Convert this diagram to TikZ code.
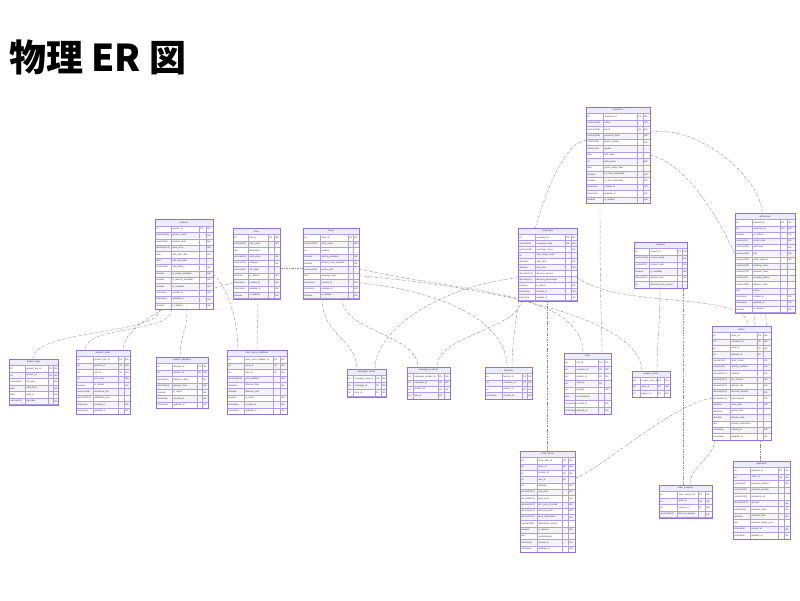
\documentclass[tikz,border=0pt]{standalone}
\usepackage{fontspec}
\setmainfont{Liberation Sans}
\newfontfamily\cjk{Noto Sans CJK JP}
\usetikzlibrary{calc}
\definecolor{erborder}{HTML}{9370DB}
\definecolor{headfill}{HTML}{ECECFF}
\definecolor{rowodd}{HTML}{FFFFFF}
\definecolor{roweven}{HTML}{F3F3FA}
\definecolor{ertextc}{HTML}{333333}
\definecolor{relc}{HTML}{8A8A8A}
\pgfdeclarelayer{bg}
\pgfsetlayers{bg,main}
\tikzset{
  erhead/.style={fill=headfill,draw=erborder,line width=0.2pt},
  ercell/.style={draw=erborder!70,line width=0.12pt},
  erframe/.style={draw=erborder,line width=0.3pt,inner sep=0pt,fill=none},
  ertxt/.style={anchor=west,inner sep=0pt,text=ertextc,font=\fontsize{2.2}{2.6}\selectfont},
  ertitle/.style={anchor=center,inner sep=0pt,text=ertextc,font=\fontsize{2.3}{2.7}\selectfont},
  rel/.style={draw=relc,line width=0.45pt,dash pattern=on 2.4pt off 1.2pt on 0.6pt off 1.2pt},
}
\newcount\errow
\def\erhh{6.5}
\def\errh{6.4}
\newcommand\ertab[8]{%
  \def\erid{#1}\def\erX{#2}\def\erY{#3}%
  \def\erwa{#4}\def\erwb{#5}\def\erwc{#6}\def\erwd{#7}%
  \pgfmathsetmacro\erW{#4+#5+#6+#7}%
  \errow=0
  \draw[erhead] (#2,#3) rectangle ++(\erW,\erhh);
  \node[ertitle] (#1-title) at ({#2+\erW/2},{#3+\erhh/2}) {#8};%
}
\newcommand\err[4]{%
  \advance\errow by 1
  \pgfmathsetmacro\ery{\erY+\erhh+(\the\errow-1)*\errh}%
  \pgfmathsetmacro\erym{\ery+\errh/2}%
  \pgfmathsetmacro\erxb{\erX+\erwa}%
  \pgfmathsetmacro\erxc{\erxb+\erwb}%
  \pgfmathsetmacro\erxd{\erxc+\erwc}%
  \ifodd\errow \def\erf{rowodd}\else\def\erf{roweven}\fi
  \path[ercell,fill=\erf] (\erX,\ery) rectangle ++(\erwa,\errh) (\erxb,\ery) rectangle ++(\erwb,\errh) (\erxc,\ery) rectangle ++(\erwc,\errh) (\erxd,\ery) rectangle ++(\erwd,\errh);
  \node[ertxt] (\erid-\the\errow-type) at ({\erX+1.3},\erym) {#1};
  \node[ertxt] (\erid-\the\errow-name) at ({\erxb+1.3},\erym) {#2};
  \node[ertxt] (\erid-\the\errow-key) at ({\erxc+1.1},\erym) {#3};
  \node[ertxt] (\erid-\the\errow-null) at ({\erxd+1.1},\erym) {#4};
}
\newcommand\erend{%
  \pgfmathsetmacro\erH{\erhh+\the\errow*\errh}%
  \node[erframe,minimum width=\erW pt,minimum height=\erH pt,anchor=north west] (\erid) at (\erX,\erY) {};
}
\begin{document}
\catcode`\_=12
\begin{tikzpicture}[x=1pt,y=-1pt]
\useasboundingbox (0,0) rectangle (800,600);
\node[anchor=west,inner sep=0pt] (title) at (9,57) {\cjk\bfseries\fontsize{37}{41}\selectfont 物理 ER 図};

% T1 customers
\def\errh{6.4}
\ertab{customers}{586}{107}{17}{34}{6}{7}{customers}
\err{int}{customer_id}{PK}{NN}
\err{varchar(100)}{name}{}{NN}
\err{varchar(255)}{email}{UK}{NN}
\err{varchar(255)}{password_hash}{}{NN}
\err{varchar(20)}{phone_number}{}{NN}
\err{varchar(10)}{gender}{}{}
\err{date}{birth_date}{}{}
\err{int}{total_points}{}{NN}
\err{date}{points_expire_date}{}{}
\err{boolean}{is_email_subscribed}{}{NN}
\err{boolean}{is_sms_subscribed}{}{NN}
\err{timestamp}{created_at}{}{NN}
\err{timestamp}{updated_at}{}{NN}
\err{boolean}{is_deleted}{}{NN}
\erend

% T2 products
\ertab{products}{155}{219.3}{16}{28}{7}{7}{products}
\err{int}{product_id}{PK}{NN}
\err{varchar(100)}{product_name}{}{NN}
\err{varchar(50)}{product_code}{}{NN}
\err{decimal(10,2)}{base_price}{}{NN}
\err{date}{sale_start_date}{}{NN}
\err{date}{sale_end_date}{}{}
\err{varchar(20)}{size_pattern}{}{NN}
\err{boolean}{is_pickup_available}{}{NN}
\err{boolean}{is_delivery_available}{}{NN}
\err{boolean}{is_available}{}{NN}
\err{timestamp}{created_at}{}{NN}
\err{timestamp}{updated_at}{}{NN}
\err{boolean}{is_deleted}{}{NN}
\erend

% T3 sizes
\ertab{sizes}{233}{228}{15}{20}{6}{6}{sizes}
\err{int}{size_id}{PK}{NN}
\err{varchar(50)}{size_name}{}{NN}
\err{text}{description}{}{}
\err{decimal(5,2)}{extra_price}{}{NN}
\err{varchar(20)}{category}{}{NN}
\err{varchar(20)}{unit_label}{}{}
\err{boolean}{is_default}{}{NN}
\err{timestamp}{created_at}{}{NN}
\err{timestamp}{updated_at}{}{NN}
\err{boolean}{is_deleted}{}{NN}
\erend

% T4 stores
\ertab{stores}{303}{228}{17}{28}{5}{6}{stores}
\err{int}{store_id}{PK}{NN}
\err{varchar(100)}{store_name}{}{NN}
\err{int}{capacity}{}{}
\err{boolean}{parking_available}{}{NN}
\err{boolean}{delivery_area_available}{}{NN}
\err{varchar(255)}{access_info}{}{}
\err{text}{opening_hours}{}{}
\err{timestamp}{created_at}{}{NN}
\err{timestamp}{updated_at}{}{NN}
\err{boolean}{is_deleted}{}{NN}
\erend

% T5 campaigns
\def\errh{6.0}
\ertab{campaigns}{518}{228}{17}{30}{6}{6}{campaigns}
\err{int}{campaign_id}{PK}{NN}
\err{varchar(50)}{campaign_code}{UK}{NN}
\err{varchar(255)}{campaign_name}{}{NN}
\err{int}{max_usage_count}{}{}
\err{datetime}{start_date}{}{NN}
\err{datetime}{end_date}{}{NN}
\err{decimal(10,2)}{discount_amount}{}{}
\err{decimal(5,2)}{discount_percentage}{}{}
\err{boolean}{is_active}{}{NN}
\err{timestamp}{created_at}{}{NN}
\err{timestamp}{updated_at}{}{NN}
\erend

% T6 coupons
\def\errh{6.6}
\ertab{coupons}{634}{242}{15}{28}{5}{5}{coupons}
\err{int}{coupon_id}{PK}{NN}
\err{varchar(100)}{coupon_name}{}{NN}
\err{varchar(50)}{coupon_code}{}{NN}
\err{boolean}{is_available}{}{NN}
\err{decimal(5,2)}{discount_rate}{}{NN}
\err{int}{discount_max_amount}{}{}
\erend

% T7 addresses
\def\errh{6.2}
\ertab{addresses}{735}{213}{17}{28}{7}{8}{addresses}
\err{int}{address_id}{PK}{NN}
\err{int}{customer_id}{FK}{NN}
\err{boolean}{is_default}{}{NN}
\err{varchar(10)}{postal_code}{}{NN}
\err{varchar(100)}{prefecture}{}{NN}
\err{varchar(100)}{city}{}{NN}
\err{varchar(255)}{street_address}{}{NN}
\err{varchar(255)}{building_name}{}{}
\err{varchar(100)}{recipient_name}{}{}
\err{varchar(20)}{recipient_phone}{}{}
\err{varchar(255)}{delivery_notes}{}{}
\err{text}{memo}{}{}
\err{timestamp}{created_at}{}{NN}
\err{timestamp}{updated_at}{}{NN}
\err{boolean}{is_deleted}{}{NN}
\erend

% T8 product_tags
\def\errh{6.5}
\ertab{ptags}{9}{359}{16}{23}{5}{5}{product_tags}
\err{int}{product_tag_id}{PK}{NN}
\err{int}{product_id}{FK}{NN}
\err{varchar(50)}{tag_type}{}{NN}
\err{date}{valid_from}{}{NN}
\err{date}{valid_to}{}{NN}
\err{varchar(20)}{tag_label}{}{NN}
\erend

% T9 product_sizes
\def\errh{6.4}
\ertab{psizes}{76}{350}{17}{25}{6}{6}{product_sizes}
\err{int}{product_size_id}{PK}{NN}
\err{int}{product_id}{FK}{NN}
\err{int}{size_id}{FK}{NN}
\err{int}{sort_order}{}{NN}
\err{boolean}{is_default}{}{NN}
\err{varchar(255)}{nutritional_info}{}{}
\err{decimal(10,2)}{additional_price}{}{}
\err{timestamp}{created_at}{}{NN}
\err{timestamp}{updated_at}{}{NN}
\erend

% T10 product_allergens
\ertab{pallerg}{156}{357}{16}{25}{5}{6}{product_allergens}
\err{int}{allergen_id}{PK}{NN}
\err{int}{product_id}{FK}{NN}
\err{varchar(50)}{allergen_name}{}{NN}
\err{decimal(5,2)}{allergen_level}{}{NN}
\err{boolean}{is_major}{}{NN}
\err{timestamp}{created_at}{}{NN}
\err{timestamp}{updated_at}{}{NN}
\erend

% T11 store_menu_additions
\ertab{smadd}{227}{350}{17}{29}{7}{7}{store_menu_additions}
\err{int}{store_menu_addition_id}{PK}{NN}
\err{int}{store_id}{FK}{NN}
\err{int}{size_id}{FK}{NN}
\err{decimal(10,2)}{price_addition}{}{NN}
\err{datetime}{effective_from}{}{NN}
\err{datetime}{effective_until}{}{}
\err{boolean}{is_active}{}{NN}
\err{timestamp}{created_at}{}{NN}
\err{timestamp}{updated_at}{}{NN}
\erend

% T12 campaign_stores
\def\errh{7.0}
\ertab{cstores}{347}{369}{6}{22}{6}{5}{campaign_stores}
\err{int}{campaign_store_id}{PK}{NN}
\err{int}{campaign_id}{FK}{NN}
\err{int}{store_id}{FK}{NN}
\erend

% T13 campaign_products
\def\errh{6.3}
\ertab{cprods}{407}{367}{6}{25}{6}{6}{campaign_products}
\err{int}{campaign_product_id}{PK}{NN}
\err{int}{campaign_id}{FK}{NN}
\err{int}{product_id}{FK}{NN}
\err{int}{size_id}{FK}{}
\erend

% T14 favorites
\ertab{favs}{485}{367}{17}{20}{5}{5}{favorites}
\err{int}{favorite_id}{PK}{NN}
\err{int}{customer_id}{FK}{NN}
\err{int}{product_id}{FK}{NN}
\err{timestamp}{created_at}{}{NN}
\erend

% T15 carts
\def\errh{6.8}
\ertab{carts}{564}{353}{11}{23}{6}{7}{carts}
\err{int}{cart_id}{PK}{NN}
\err{int}{customer_id}{FK}{NN}
\err{int}{product_id}{FK}{NN}
\err{int}{store_id}{FK}{}
\err{int}{quantity}{}{NN}
\err{text}{customization}{}{}
\err{timestamp}{created_at}{}{NN}
\err{timestamp}{updated_at}{}{NN}
\erend

% T16 coupon_stores
\def\errh{6.4}
\ertab{coupstores}{632}{371}{8}{17}{7}{6}{coupon_stores}
\err{int}{coupon_store_id}{PK}{NN}
\err{int}{store_id}{FK}{NN}
\err{int}{region_id}{FK}{NN}
\erend

% T17 orders
\def\errh{6.3}
\ertab{orders}{712}{326}{18}{27}{6}{8}{orders}
\err{int}{order_id}{PK}{NN}
\err{int}{customer_id}{FK}{NN}
\err{int}{store_id}{FK}{NN}
\err{int}{address_id}{FK}{}
\err{varchar(20)}{order_status}{}{NN}
\err{varchar(20)}{delivery_method}{}{NN}
\err{decimal(10,2)}{subtotal}{}{NN}
\err{decimal(10,2)}{tax_amount}{}{NN}
\err{decimal(10,2)}{delivery_fee}{}{NN}
\err{decimal(10,2)}{discount_amount}{}{NN}
\err{decimal(10,2)}{total_amount}{}{NN}
\err{datetime}{order_date}{}{NN}
\err{datetime}{pickup_time}{}{}
\err{datetime}{delivery_time}{}{}
\err{text}{special_instructions}{}{}
\err{timestamp}{created_at}{}{NN}
\err{timestamp}{updated_at}{}{NN}
\erend

% T18 order_items
\ertab{oitems}{520}{451}{17}{25}{6}{7}{order_items}
\err{int}{order_item_id}{PK}{NN}
\err{int}{order_id}{FK}{NN}
\err{int}{product_id}{FK}{NN}
\err{int}{size_id}{FK}{}
\err{int}{quantity}{}{NN}
\err{decimal(10,2)}{unit_price}{}{NN}
\err{decimal(10,2)}{base_price}{}{NN}
\err{decimal(10,2)}{unit_price_at_order}{}{NN}
\err{decimal(10,2)}{discount_price}{}{NN}
\err{decimal(10,2)}{price_adjustment}{}{NN}
\err{varchar(255)}{adjustment_reason}{}{}
\err{boolean}{is_takeout}{}{NN}
\err{text}{customization}{}{}
\err{timestamp}{created_at}{}{NN}
\err{timestamp}{updated_at}{}{NN}
\erend

% T19 order_coupons
\def\errh{6.5}
\ertab{ocoup}{659}{485}{18}{21}{7}{7}{order_coupons}
\err{int}{order_coupon_id}{PK}{NN}
\err{int}{order_id}{FK}{NN}
\err{int}{coupon_id}{FK}{NN}
\err{decimal(10,2)}{discount_applied}{}{NN}
\erend

% T20 payments
\ertab{payments}{733}{461}{17}{28}{6}{6}{payments}
\err{int}{payment_id}{PK}{NN}
\err{int}{order_id}{FK}{NN}
\err{varchar(50)}{payment_method}{}{NN}
\err{varchar(100)}{payment_provider}{}{}
\err{varchar(100)}{transaction_id}{}{}
\err{decimal(10,2)}{amount}{}{NN}
\err{varchar(20)}{payment_status}{}{NN}
\err{datetime}{payment_date}{}{NN}
\err{text}{payment_details_json}{}{}
\err{timestamp}{created_at}{}{NN}
\err{timestamp}{updated_at}{}{NN}
\erend

\begin{pgfonlayer}{bg}
% products relations
\draw[rel] ($(products.south west)+(5,0)$) .. controls +(0,26) and +(0,-30) .. ($(ptags.north west)+(24,0)$);
\draw[rel] ($(products.south west)+(17,0)$) .. controls +(0,24) and +(0,-25) .. ($(psizes.north west)+(9,0)$);
\draw[rel] ($(sizes.south west)+(0,-16)$) .. controls +(-33,8) and +(0,-30) .. ($(psizes.north west)+(47,0)$);
\draw[rel] ($(products.south west)+(32,0)$) .. controls +(0,23) and +(0,-22) .. ($(pallerg.north west)+(24,0)$);
\draw[rel] ($(products.south east)+(0,-35)$) .. controls +(17,16) and +(0,-25) .. ($(smadd.north west)+(11,0)$);
\draw[rel] ($(sizes.south west)+(25,0)$) .. controls +(0,24) and +(0,-22) .. ($(smadd.north west)+(30,0)$);
\draw[rel] ($(sizes.south east)+(0,-30.5)$) -- ($(stores.south west)+(0,-30.5)$);
% stores / campaigns
\draw[rel] ($(stores.south west)+(19,0)$) .. controls +(0,36) and +(0,-29) .. ($(cstores.north west)+(10,0)$);
\draw[rel] ($(campaigns.south west)+(0,-23)$) .. controls +(-78,8) and +(0,-39) .. ($(cstores.north west)+(28,0)$);
\draw[rel] ($(stores.south west)+(39,0)$) .. controls +(0,32) and +(0,-32) .. ($(cprods.north west)+(11,0)$);
\draw[rel] ($(campaigns.south west)+(4,0)$) .. controls +(-7,30) and +(0,-32) .. ($(cprods.north west)+(30,0)$);
% favorites / carts
\draw[rel] ($(customers.west)+(0,-15)$) .. controls +(-40,5) and +(0,-60) .. ($(favs.north west)+(27,0)$);
\draw[rel] ($(stores.south east)+(0,-16)$) .. controls +(80,8) and +(0,-47) .. ($(favs.north west)+(22,0)$);
\draw[rel] ($(customers.south west)+(14,0)$) .. controls +(0,117) and +(0,-33) .. ($(carts.north west)+(38,0)$);
\draw[rel] ($(stores.south east)+(0,-30)$) .. controls +(90,22) and +(0,-63) .. ($(carts.north west)+(19,0)$);
\draw[rel] ($(stores.south east)+(0,-23)$) .. controls +(140,12) and +(0,-51) .. ($(coupstores.north west)+(10,0)$);
\draw[rel] ($(coupons.south west)+(26,0)$) .. controls +(0,39) and +(0,-31) .. ($(coupstores.north west)+(25,0)$);
\draw[rel] ($(coupons.south west)+(49,0)$) .. controls +(0,90) and +(0,-65) .. ($(ocoup.north west)+(24,0)$);
% customers / addresses / orders
\draw[rel] ($(customers.east)+(0,-23)$) .. controls +(50,-8) and +(0,-33) .. ($(addresses.north west)+(27,0)$);
\draw[rel] ($(customers.east)+(0,0)$) .. controls +(50,10) and +(0,-46) .. ($(orders.north west)+(43,0)$);
\draw[rel] ($(addresses.south west)+(30,0)$) -- ($(orders.north west)+(55,0)$);
\draw[rel] ($(campaigns.east)+(0,13)$) .. controls +(43,33) and +(0,-36) .. ($(orders.north west)+(36,0)$);
\draw[rel] ($(orders.north west)+(0,72)$) .. controls +(-42,7) and +(25,-8) .. ($(oitems.north east)+(0,27)$);
\draw[rel] ($(orders.south west)+(3,0)$) .. controls +(-2,20) and +(0,-20) .. ($(ocoup.north west)+(31,0)$);
\draw[rel] ($(orders.south west)+(48,0)$) -- ($(payments.north west)+(27,0)$);
\draw[rel] ($(campaigns.south west)+(29,0)$) -- ($(oitems.north west)+(27,0)$);
\end{pgfonlayer}
\end{tikzpicture}
\end{document}
